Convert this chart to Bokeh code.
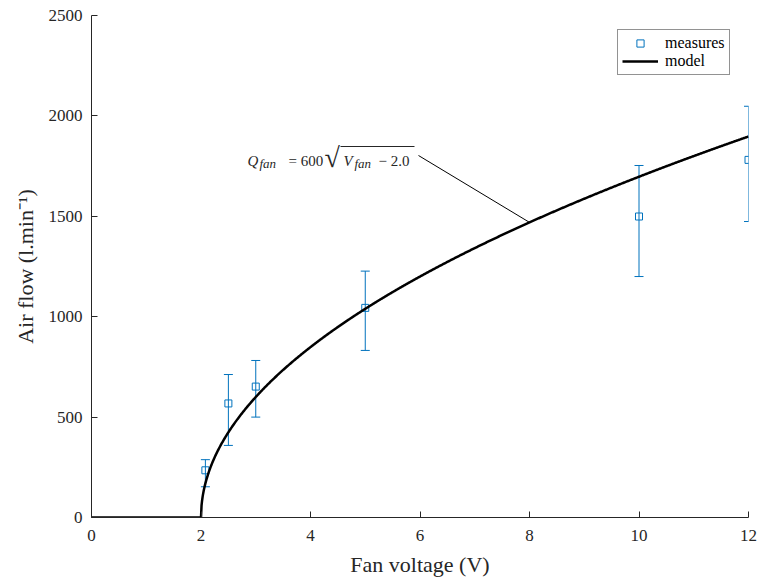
import numpy as np
from bokeh.plotting import figure
from bokeh.models import (ColumnDataSource, Whisker, TeeHead, Label, Legend,
                          LegendItem, Range1d, FixedTicker)
from bokeh.embed import file_html
from bokeh.resources import INLINE

# ---------------- data ----------------
voltage = [2.08, 2.5, 3.0, 5.0, 10.0, 12.0]
airflow = [235, 568, 652, 1044, 1499, 1781]
airflow_upper = [288, 712, 782, 1227, 1753, 2048]
airflow_lower = [153, 359, 500, 832, 1200, 1474]

model_gain = 600.0
model_v0 = 2.0
model_voltage = np.linspace(0, 12, 1201)
model_airflow = model_gain * np.sqrt(np.clip(model_voltage - model_v0, 0, None))

x_ticks = [0, 2, 4, 6, 8, 10, 12]
y_ticks = [0, 500, 1000, 1500, 2000, 2500]

annot_point_v = 8.0

# ---------------- style ----------------
BLUE = "#0072BD"
TXT = "#262626"
FONT = "Liberation Serif"

W, H = 758, 581
# frame geometry in page px (for annotation placement)
FL, FR, FT, FB = 91, 748, 15, 517
def px2x(px):
    return (px - FL) / (FR - FL) * 12.0
def py2y(py):
    return (FB - py) / (FB - FT) * 2500.0

p = figure(width=W, height=H, x_range=Range1d(0, 12), y_range=Range1d(0, 2500),
           output_backend="svg", toolbar_location=None,
           min_border_left=FL, min_border_right=W - FR,
           min_border_top=FT, min_border_bottom=H - FB)
p.outline_line_color = None
p.grid.visible = False
p.background_fill_color = "white"
p.border_fill_color = "white"

p.xaxis.ticker = FixedTicker(ticks=x_ticks)
p.yaxis.ticker = FixedTicker(ticks=y_ticks)
p.xaxis.axis_label = "Fan voltage (V)"
p.yaxis.axis_label = "Air flow (l.min\u207b\u00b9)"
for ax in (p.xaxis[0], p.yaxis[0]):
    ax.axis_line_color = TXT
    ax.axis_line_width = 1
    ax.major_tick_line_color = TXT
    ax.major_tick_in = 6
    ax.major_tick_out = 0
    ax.minor_tick_in = 0
    ax.minor_tick_out = 0
    ax.major_label_text_font = FONT
    ax.major_label_text_font_size = "17px"
    ax.major_label_text_color = TXT
    ax.major_label_standoff = 9
    ax.axis_label_text_font = FONT
    ax.axis_label_text_font_size = "22px"
    ax.axis_label_text_font_style = "normal"
    ax.axis_label_text_color = TXT
    ax.axis_label_standoff = 8
p.xaxis.major_label_standoff = 12

# error bars
src = ColumnDataSource(dict(v=voltage, q=airflow, u=airflow_upper, l=airflow_lower))
wh = Whisker(base="v", upper="u", lower="l", source=src, dimension="height",
             line_color=BLUE, line_width=1,
             upper_head=TeeHead(size=9, line_color=BLUE, line_width=1),
             lower_head=TeeHead(size=9, line_color=BLUE, line_width=1))
p.add_layout(wh)

sq = p.scatter("v", "q", source=src, marker="square", size=7,
               fill_color=None, line_color=BLUE, line_width=1)
ln = p.line(model_voltage, model_airflow, line_color="black", line_width=2.5)

legend = Legend(items=[LegendItem(label="measures", renderers=[sq]),
                       LegendItem(label="model", renderers=[ln])],
                location=(617 - FL, FB - 75))
legend.label_text_font = FONT
legend.label_text_font_size = "16px"
legend.label_text_color = "black"
legend.border_line_color = TXT
legend.border_line_width = 1
legend.padding = 4
legend.spacing = 0
legend.margin = 0
legend.glyph_width = 36
legend.glyph_height = 18
legend.label_height = 18
legend.label_standoff = 7
legend.background_fill_color = "white"
legend.background_fill_alpha = 1
p.add_layout(legend)

# annotation: leader line
p.segment(x0=[px2x(418)], y0=[py2y(155)],
          x1=[annot_point_v], y1=[model_gain * np.sqrt(annot_point_v - model_v0)],
          line_color="black", line_width=1)

# annotation text  Q_fan = 600 sqrt(V_fan - 2.0)
ax0, ay0 = px2x(247), py2y(160)
pieces = [
    ("Q", 0, 0, "15px", "italic"),
    ("fan", 12, -3, "13px", "italic"),
    ("= 600", 41, 0, "15px", "normal"),
    ("\u221a", 77, 3, "28px", "normal"),
    ("V", 96, 0, "15px", "italic"),
    ("fan", 107, -3, "13px", "italic"),
    ("\u2212 2.0", 131, 0, "15px", "normal"),
]
for t, dx, dy, fs, st in pieces:
    p.add_layout(Label(x=ax0, y=ay0, x_offset=dx, y_offset=dy, text=t,
                       text_font=FONT, text_font_size=fs, text_font_style=st,
                       text_color=TXT, text_baseline="alphabetic", text_align="left"))
# radical overline
p.segment(x0=[px2x(340)], y0=[py2y(146)], x1=[px2x(414)], y1=[py2y(146)],
          line_color=TXT, line_width=1)

open("out.html", "w").write(file_html(p, INLINE))
